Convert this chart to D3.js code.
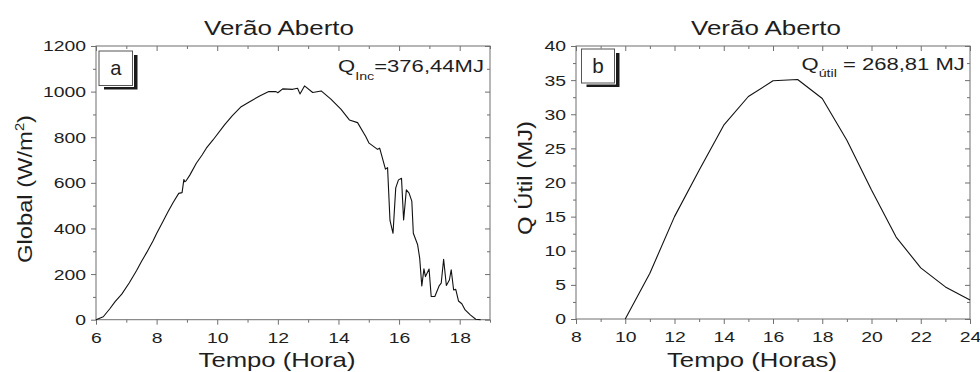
<!DOCTYPE html>
<html>
<head>
<meta charset="utf-8">
<script src="https://cdn.jsdelivr.net/npm/d3@7"></script>
<style>
  html, body { margin: 0; padding: 0; background: #fff; }
  svg { display: block; font-family: "Liberation Sans", Arial, sans-serif; }
</style>
</head>
<body>
<svg id="chart" width="980" height="372"></svg>
<script>
// Panel a: global irradiance over the day (W/m²)
const hoursA = [6.00, 6.24, 6.45, 6.63, 6.85, 7.10, 7.34, 7.50, 7.67, 7.88, 8.00, 8.20, 8.38, 8.55, 8.73, 8.84, 8.90, 8.93, 8.98, 9.10, 9.31, 9.50, 9.64, 9.86, 10.24, 10.50, 10.79, 11.07, 11.40, 11.70, 11.94, 12.00, 12.16, 12.49, 12.65, 12.73, 12.88, 13.15, 13.43, 13.75, 14.08, 14.36, 14.63, 14.90, 15.01, 15.29, 15.36, 15.55, 15.62, 15.70, 15.80, 15.89, 15.98, 16.08, 16.15, 16.24, 16.33, 16.42, 16.47, 16.61, 16.68, 16.75, 16.82, 16.87, 16.99, 17.06, 17.18, 17.32, 17.39, 17.47, 17.56, 17.66, 17.72, 17.80, 17.87, 17.96, 18.07, 18.18, 18.35, 18.53, 18.69];
const globalA = [0, 13, 47, 79, 112, 162, 216, 255, 294, 345, 378, 428, 474, 515, 554, 557, 615, 605, 610, 635, 686, 722, 752, 788, 854, 895, 934, 956, 981, 1000, 1000, 995, 1012, 1010, 1015, 990, 1025, 996, 1003, 967, 923, 876, 864, 803, 774, 747, 752, 660, 667, 435, 379, 578, 613, 620, 437, 569, 555, 520, 379, 330, 270, 148, 223, 189, 222, 102, 102, 148, 160, 265, 150, 174, 219, 130, 133, 82, 70, 43, 21, 2, 0];

// Panel b: useful energy per hour (MJ)
const hoursB = [10, 11, 12, 13, 14, 15, 16, 17, 18, 19, 20, 21, 22, 23, 24];
const qUtilB = [0, 6.7, 15.0, 21.8, 28.4, 32.6, 34.9, 35.1, 32.3, 26.2, 18.9, 12.0, 7.5, 4.7, 2.8];

// Tick values
const xTicksA = [6, 8, 10, 12, 14, 16, 18];
const xMinorA = [7, 9, 11, 13, 15, 17, 19];
const yTicksA = [0, 200, 400, 600, 800, 1000, 1200];
const yMinorA = [100, 300, 500, 700, 900, 1100];
const xTicksB = [8, 10, 12, 14, 16, 18, 20, 22, 24];
const xMinorB = [9, 11, 13, 15, 17, 19, 21, 23];
const yTicksB = [0, 5, 10, 15, 20, 25, 30, 35, 40];
const yMinorB = [2.5, 7.5, 12.5, 17.5, 22.5, 27.5, 32.5, 37.5];

const svg = d3.select("#chart");
const AXIS = "#6f6f6f", INK = "#1e1e1e";
const LABEL_SIZE = 15.5, LABEL_SX = 1.25;

// Text whose glyphs are stretched horizontally to a given overall width
function stretchedText(parent, opts) {
  const g = parent.append("g");
  const t = g.append("text")
    .attr("font-size", opts.size)
    .attr("fill", INK)
    .attr("text-anchor", opts.anchor || "middle");
  if (opts.parts) {
    opts.parts.forEach(p => {
      t.append("tspan").text(p.text)
        .attr("font-size", p.size || opts.size)
        .attr("dy", p.dy || 0);
    });
  } else {
    t.text(opts.text);
  }
  const w = t.node().getBBox().width;
  const s = opts.width ? opts.width / w : 1.18;
  g.attr("transform", `translate(${opts.x},${opts.y}) rotate(${opts.rotate || 0}) scale(${s},1)`);
  return g;
}

function panel(cfg) {
  const { x, y } = cfg;
  const [x0, x1] = x.range();
  const [y0, y1] = y.range();
  const g = svg.append("g");

  // frame
  g.append("rect")
    .attr("x", x0).attr("y", y1)
    .attr("width", x1 - x0).attr("height", y0 - y1)
    .attr("fill", "none").attr("stroke", AXIS).attr("stroke-width", 1);

  const styleAxis = sel => {
    sel.select(".domain").remove();
    sel.selectAll(".tick line").attr("stroke", AXIS).attr("stroke-width", 1);
  };

  // bottom axis (outward ticks)
  const bx = g.append("g").attr("transform", `translate(0,${y0})`)
    .call(d3.axisBottom(x).tickValues(cfg.xTicks).tickSize(5).tickPadding(7).tickFormat(d3.format("d")));
  styleAxis(bx);
  bx.selectAll("text").attr("font-size", LABEL_SIZE).attr("fill", INK)
    .attr("font-family", "Liberation Sans, Arial, sans-serif")
    .attr("transform", `scale(${LABEL_SX},1)`);
  const bxm = g.append("g").attr("transform", `translate(0,${y0})`)
    .call(d3.axisBottom(x).tickValues(cfg.xMinor).tickSize(3).tickFormat(""));
  styleAxis(bxm);

  // left axis (outward ticks)
  const ly = g.append("g").attr("transform", `translate(${x0},0)`)
    .call(d3.axisLeft(y).tickValues(cfg.yTicks).tickSize(5).tickPadding(5).tickFormat(d3.format("d")));
  styleAxis(ly);
  ly.selectAll("text").attr("font-size", LABEL_SIZE).attr("fill", INK)
    .attr("font-family", "Liberation Sans, Arial, sans-serif")
    .attr("x", -10 / LABEL_SX)
    .attr("transform", `scale(${LABEL_SX},1)`);
  const lym = g.append("g").attr("transform", `translate(${x0},0)`)
    .call(d3.axisLeft(y).tickValues(cfg.yMinor).tickSize(3).tickFormat(""));
  styleAxis(lym);

  // mirrored top / right ticks pointing inward
  [[cfg.xTicks, 5], [cfg.xMinor, 3]].forEach(([vals, len]) => {
    const t = g.append("g").attr("transform", `translate(0,${y1})`)
      .call(d3.axisBottom(x).tickValues(vals).tickSize(len).tickFormat(""));
    styleAxis(t);
  });
  [[cfg.yTicks, 5], [cfg.yMinor, 3]].forEach(([vals, len]) => {
    const t = g.append("g").attr("transform", `translate(${x1},0)`)
      .call(d3.axisLeft(y).tickValues(vals).tickSize(len).tickFormat(""));
    styleAxis(t);
  });

  // data line
  const line = d3.line().x(d => x(d[0])).y(d => y(d[1]));
  g.append("path")
    .datum(d3.zip(cfg.xs, cfg.ys))
    .attr("d", line)
    .attr("fill", "none").attr("stroke", "#111").attr("stroke-width", 1.1)
    .attr("stroke-linejoin", "round");

  // panel letter box with drop shadow
  const b = cfg.box;
  g.append("rect").attr("x", b.x + 5).attr("y", b.y + 4).attr("width", b.w).attr("height", b.h)
    .attr("fill", "#1a1a1a");
  g.append("rect").attr("x", b.x - 0.5).attr("y", b.y - 0.5).attr("width", b.w + 2).attr("height", b.h + 2)
    .attr("fill", "#fff");
  g.append("rect").attr("x", b.x).attr("y", b.y).attr("width", b.w).attr("height", b.h)
    .attr("fill", "#fff").attr("stroke", "#555").attr("stroke-width", 1);
  stretchedText(g, { text: cfg.letter, x: b.x + b.w / 2, y: b.y + 24, size: 21, width: 11.5 });

  // titles
  stretchedText(g, { text: "Verão Aberto", x: cfg.titleX, y: 35, size: 21, width: 150 });
  stretchedText(g, { text: cfg.xTitle, x: cfg.xTitleX, y: 366.5, size: 20.5, width: cfg.xTitleW });
  stretchedText(g, { text: cfg.yTitle, parts: cfg.yTitleParts, x: cfg.yTitleX, y: cfg.yTitleY,
    size: 21, width: cfg.yTitleW, rotate: -90 });

  // total energy annotation
  stretchedText(g, { parts: cfg.qParts, x: cfg.qX, y: cfg.qY, size: 17, width: cfg.qW, anchor: "start" });
}

panel({
  x: d3.scaleLinear().domain([6, 19]).range([96, 490]),
  y: d3.scaleLinear().domain([0, 1200]).range([319.7, 46]),
  xs: hoursA, ys: globalA,
  xTicks: xTicksA, xMinor: xMinorA, yTicks: yTicksA, yMinor: yMinorA,
  box: { x: 99, y: 51, w: 33.5, h: 34.5 }, letter: "a",
  titleX: 279, xTitle: "Tempo (Hora)", xTitleX: 277, xTitleW: 157,
  yTitleParts: [{ text: "Global (W/m" }, { text: "2", size: 13, dy: -8 }, { text: ")", dy: 8 }],
  yTitleX: 31.5, yTitleY: 189, yTitleW: 148,
  qParts: [{ text: "Q" }, { text: "Inc", size: 11, dy: 8 }, { text: "=376,44MJ", dy: -8 }],
  qX: 338, qY: 72, qW: 146
});

panel({
  x: d3.scaleLinear().domain([8, 24]).range([576, 970]),
  y: d3.scaleLinear().domain([0, 40]).range([319, 46]),
  xs: hoursB, ys: qUtilB,
  xTicks: xTicksB, xMinor: xMinorB, yTicks: yTicksB, yMinor: yMinorB,
  box: { x: 581.5, y: 49, w: 33, h: 34 }, letter: "b",
  titleX: 766, xTitle: "Tempo (Horas)", xTitleX: 752, xTitleW: 170,
  yTitleParts: [{ text: "Q Útil (MJ)" }],
  yTitleX: 531.5, yTitleY: 178, yTitleW: 114,
  qParts: [{ text: "Q" }, { text: "útil", size: 11, dy: 7 }, { text: " = 268,81 MJ", dy: -7 }],
  qX: 801.5, qY: 70, qW: 163.5
});
</script>
</body>
</html>
